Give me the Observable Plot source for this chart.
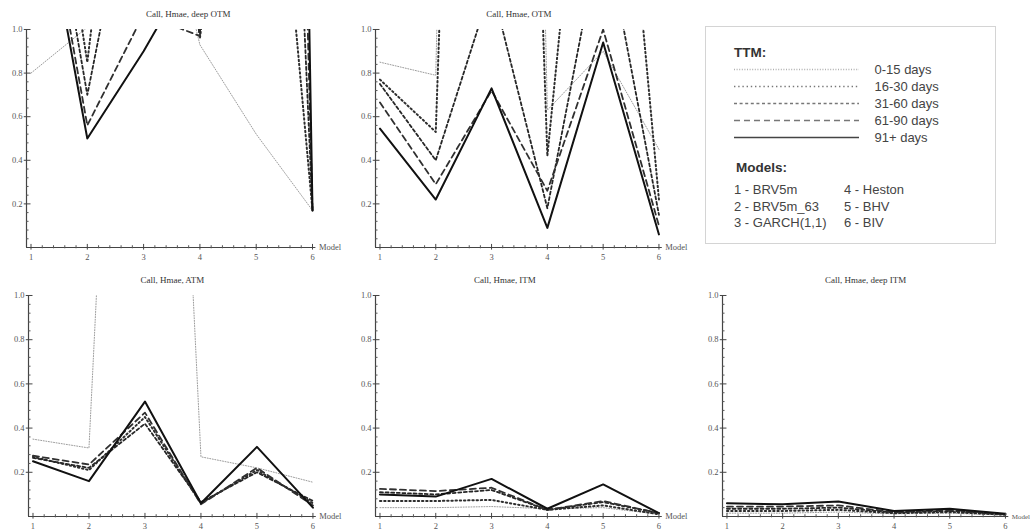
<!DOCTYPE html>
<html><head><meta charset="utf-8">
<script src="https://cdn.jsdelivr.net/npm/d3@7"></script>
<script src="https://cdn.jsdelivr.net/npm/@observablehq/plot@0.6"></script>
<style>
html,body{margin:0;padding:0;background:#fff;overflow:hidden;}
#root{position:relative;width:1035px;height:532px;overflow:hidden;}
.panel{position:absolute;}
.legend{position:absolute;left:705px;top:26px;width:291px;height:218px;border:1px solid #d4d4d4;box-sizing:border-box;font-family:"Liberation Sans",Arial,sans-serif;color:#444;font-size:13px;}
.legend .hdr{position:absolute;font-weight:bold;color:#333;font-size:13.5px;}
.legend .swatch{position:absolute;left:28px;top:33px;}
.legend .m{position:absolute;line-height:16.5px;white-space:nowrap;}
</style></head><body><div id="root"></div>
<script>
const models = [1, 2, 3, 4, 5, 6];
const ttmLabels = ["0-15 days", "16-30 days", "31-60 days", "61-90 days", "91+ days"];
const modelNames = ["1 - BRV5m", "2 - BRV5m_63", "3 - GARCH(1,1)", "4 - Heston", "5 - BHV", "6 - BIV"];
const yTicks = [0.2, 0.4, 0.6, 0.8, 1.0];
const yTickLabels = ["0.2", "0.4", "0.6", "0.8", "1.0"];
const panelTitles = ["Call, Hmae, deep OTM", "Call, Hmae, OTM", "Call, Hmae, ATM", "Call, Hmae, ITM", "Call, Hmae, deep ITM"];

// rows: TTM groups (0-15, 16-30, 31-60, 61-90, 91+ days); columns: models 1..6
const deepOTM = [
  [0.80, 1.01, 2.0, 0.93, 0.52, 0.17],
  [2.5, 0.85, 3.0, 0.96, 3.0, 0.17],
  [2.2, 0.70, 2.0, 0.98, 6.0, 0.17],
  [2.0, 0.56, 1.07, 0.97, 10.0, 0.17],
  [1.9, 0.50, 0.90, 1.35, 15.0, 0.17]
];
const OTM = [
  [0.85, 0.79, 12, 0.63, 0.90, 0.45],
  [0.77, 0.53, 8, 0.42, 3.0, 0.22],
  [0.75, 0.40, 1.2, 0.18, 1.5, 0.15],
  [0.665, 0.29, 0.72, 0.26, 1.0, 0.10],
  [0.545, 0.22, 0.73, 0.09, 0.94, 0.06]
];
const ATM = [
  [0.35, 0.31, 5.5, 0.27, 0.22, 0.155],
  [0.27, 0.21, 0.45, 0.06, 0.21, 0.06],
  [0.265, 0.22, 0.42, 0.065, 0.20, 0.07],
  [0.275, 0.235, 0.47, 0.055, 0.22, 0.05],
  [0.25, 0.16, 0.52, 0.06, 0.315, 0.04]
];
const ITM = [
  [0.04, 0.04, 0.045, 0.035, 0.04, 0.01],
  [0.07, 0.07, 0.075, 0.03, 0.05, 0.01],
  [0.11, 0.10, 0.12, 0.03, 0.065, 0.015],
  [0.125, 0.115, 0.13, 0.03, 0.07, 0.015],
  [0.10, 0.09, 0.17, 0.035, 0.145, 0.015]
];
const deepITM = [
  [0.015, 0.015, 0.02, 0.012, 0.015, 0.006],
  [0.025, 0.025, 0.03, 0.015, 0.02, 0.008],
  [0.035, 0.035, 0.04, 0.018, 0.025, 0.01],
  [0.045, 0.045, 0.05, 0.02, 0.03, 0.01],
  [0.06, 0.055, 0.068, 0.025, 0.035, 0.012]
];

const lineStyles = [
  {stroke: "#9c9c9c", strokeWidth: 1, strokeDasharray: "1,1.6"},
  {stroke: "#2e2e2e", strokeWidth: 2, strokeDasharray: "1.4,2.8"},
  {stroke: "#262626", strokeWidth: 1.8, strokeDasharray: "3,2.6"},
  {stroke: "#303030", strokeWidth: 1.8, strokeDasharray: "6,4"},
  {stroke: "#111111", strokeWidth: 2, strokeDasharray: "none"}
];

const serif = "Liberation Serif, DejaVu Serif, serif";
const xDom = [0.92, 6.06];
const root = document.getElementById("root");

const panels = [
  {values: deepOTM, title: panelTitles[0], left: 25.5, top: 29, fw: 289.4, fh: 218, titleDx: 17, labelSize: 8.5},
  {values: OTM, title: panelTitles[1], left: 374.5, top: 29, fw: 286.8, fh: 218, titleDx: 0, labelSize: 8.5},
  {values: ATM, title: panelTitles[2], left: 27.5, top: 295, fw: 287.8, fh: 221, titleDx: 0, labelSize: 8.5},
  {values: ITM, title: panelTitles[3], left: 374.5, top: 295, fw: 286.8, fh: 221, titleDx: -14, labelSize: 8.5},
  {values: deepITM, title: panelTitles[4], left: 722.2, top: 295, fw: 286.3, fh: 221, titleDx: 0, labelSize: 7}
];

const xMinor = d3.range(1, 6.001, 0.2).filter(v => Math.abs(v - Math.round(v)) > 1e-6);
const yMinor = d3.range(0.04, 1.001, 0.04).filter(v => Math.abs(v * 5 - Math.round(v * 5)) > 1e-6);

for (const p of panels) {
  const ml = 28, mr = 34, mt = 29, mb = 16;
  const lineMarks = p.values.map((row, i) =>
    Plot.line(models.map((m, j) => ({model: m, value: row[j]})),
      {x: "model", y: "value", clip: true, ...lineStyles[i]}));
  const chart = Plot.plot({
    width: p.fw + ml + mr,
    height: p.fh + mt + mb,
    marginLeft: ml, marginRight: mr, marginTop: mt, marginBottom: mb,
    x: {domain: xDom, axis: null},
    y: {domain: [0, 1], axis: null},
    style: {background: "transparent", overflow: "visible", maxWidth: "none"},
    marks: [
      ...lineMarks,
      Plot.ruleY([0], {stroke: "#444", strokeWidth: 1.2}),
      Plot.ruleX([xDom[0]], {y1: 0, y2: 1, stroke: "#444", strokeWidth: 1.2}),
      Plot.ruleX(models, {x: d => d, y1: -0.012, y2: 0.014, stroke: "#444"}),
      Plot.ruleX(xMinor, {x: d => d, y1: -0.006, y2: 0.008, stroke: "#555"}),
      Plot.ruleY(yTicks, {y: d => d, x1: xDom[0] - 0.04, x2: xDom[0] + 0.08, stroke: "#444"}),
      Plot.ruleY(yMinor, {y: d => d, x1: xDom[0], x2: xDom[0] + 0.045, stroke: "#555"}),
      Plot.text(models, {x: d => d, y: 0, dy: 10, text: d => String(d), fontSize: 8.5, fontFamily: serif, fill: "#555"}),
      Plot.text(yTicks, {x: xDom[0], y: d => d, dx: -4, textAnchor: "end", text: (d, i) => yTickLabels[i], fontSize: 8.5, fontFamily: serif, fill: "#555"}),
      Plot.text(["Model"], {x: xDom[1], y: 0, dx: 3, textAnchor: "start", fontSize: p.labelSize, fontFamily: serif, fill: "#555"}),
      Plot.text([p.title], {frameAnchor: "top", dy: -19, dx: p.titleDx, fontSize: 9, fontFamily: serif, fill: "#333"})
    ]
  });
  const div = document.createElement("div");
  div.className = "panel";
  div.style.left = (p.left - ml) + "px";
  div.style.top = (p.top - mt) + "px";
  div.style.width = (p.fw + ml + mr) + "px";
  div.appendChild(chart);
  root.appendChild(div);
}

// Legend
const legend = document.createElement("div");
legend.className = "legend";
root.appendChild(legend);
const hdr1 = document.createElement("div");
hdr1.className = "hdr"; hdr1.textContent = "TTM:";
hdr1.style.left = "28px"; hdr1.style.top = "18px";
legend.appendChild(hdr1);

const legendStyles = lineStyles.map((s, i) => ({...s, strokeWidth: i === 4 ? 1.6 : 1.3, stroke: i === 4 ? "#444" : (i === 0 ? "#b0b0b0" : "#777")}));
const sw = Plot.plot({
  width: 260, height: 86,
  marginLeft: 0, marginRight: 135, marginTop: 8, marginBottom: 8,
  x: {domain: [0, 1], axis: null},
  y: {type: "point", domain: ttmLabels, padding: 0, axis: null},
  style: {background: "transparent", overflow: "visible", maxWidth: "none"},
  marks: [
    ...ttmLabels.map((lab, i) => Plot.ruleY([lab], {y: d => d, x1: 0, x2: 1, ...legendStyles[i]})),
    Plot.text(ttmLabels, {x: 1, y: d => d, dx: 15, textAnchor: "start", fontSize: 13, fontFamily: "Liberation Sans, Arial, sans-serif", fill: "#444"})
  ]
});
const swDiv = document.createElement("div");
swDiv.className = "swatch";
swDiv.appendChild(sw);
legend.appendChild(swDiv);

const hdr2 = document.createElement("div");
hdr2.className = "hdr"; hdr2.textContent = "Models:";
hdr2.style.left = "30px"; hdr2.style.top = "133px";
legend.appendChild(hdr2);
modelNames.forEach((name, i) => {
  const d = document.createElement("div");
  d.className = "m";
  d.textContent = name;
  d.style.left = (i < 3 ? 28 : 138) + "px";
  d.style.top = (155 + (i % 3) * 16.5) + "px";
  legend.appendChild(d);
});
</script></body></html>
